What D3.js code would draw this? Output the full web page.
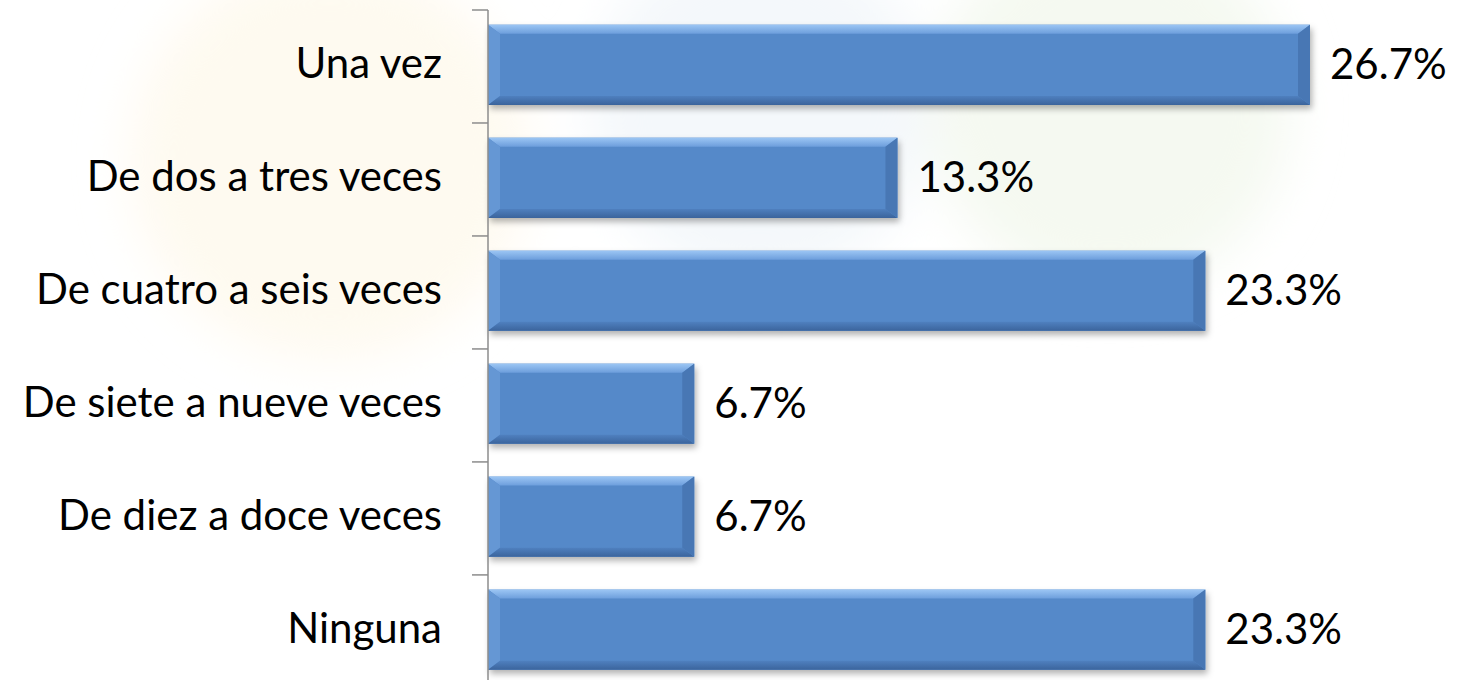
<!doctype html>
<html>
<head>
<style>
  body { margin: 0; background: #fff; }
  .cat { font-family: Lato, "Open Sans", sans-serif; font-size: 42px; fill: #000; }
  .val { font-family: Lato, "Open Sans", sans-serif; font-size: 42px; fill: #000; }
</style>
<script src="https://d3js.org/d3.v7.min.js"></script>
</head>
<body>
<svg width="1457" height="680"></svg>
<script>
var categories = ["Una vez", "De dos a tres veces", "De cuatro a seis veces", "De siete a nueve veces", "De diez a doce veces", "Ninguna"];
var values = [26.7, 13.3, 23.3, 6.7, 6.7, 23.3];
var valueLabels = ["26.7%", "13.3%", "23.3%", "6.7%", "6.7%", "23.3%"];

var svg = d3.select("svg");
var x0 = 488;

var x = d3.scaleLinear().domain([0, 26.7]).range([x0, 1310]);
var y = d3.scaleBand().domain(categories).range([10, 684.5]).paddingInner(0.29).paddingOuter(0.13);

var defs = svg.append("defs");
var blur = defs.append("filter").attr("id", "soft");
blur.append("feGaussianBlur").attr("stdDeviation", 25);

// faint watermark behind the chart
var wm = svg.append("g").attr("filter", "url(#soft)");
wm.append("circle").attr("cx", 330).attr("cy", 160).attr("r", 200).attr("fill", "#fefaf0");
wm.append("circle").attr("cx", 760).attr("cy", 110).attr("r", 170).attr("fill", "#f4f8fb");
wm.append("circle").attr("cx", 1110).attr("cy", 110).attr("r", 180).attr("fill", "#f5f9f1");

var sh = defs.append("filter").attr("id", "shadow").attr("x", "-5%").attr("y", "-20%").attr("width", "115%").attr("height", "150%");
sh.append("feDropShadow").attr("dx", 2).attr("dy", 4).attr("stdDeviation", 3).attr("flood-color", "#000").attr("flood-opacity", 0.3);

var gTop = defs.append("linearGradient").attr("id", "gTop").attr("x1", 0).attr("y1", 0).attr("x2", 0).attr("y2", 1);
gTop.append("stop").attr("offset", 0).attr("stop-color", "#9cc6f4");
gTop.append("stop").attr("offset", 1).attr("stop-color", "#6d9edc");
var gBot = defs.append("linearGradient").attr("id", "gBot").attr("x1", 0).attr("y1", 0).attr("x2", 0).attr("y2", 1);
gBot.append("stop").attr("offset", 0).attr("stop-color", "#4f80bf");
gBot.append("stop").attr("offset", 1).attr("stop-color", "#3b649c");

var g = svg.append("g");
var bevT = 9, bevL = 12;

var bars = g.selectAll(".bar").data(values).enter().append("g").attr("class", "bar")
  .attr("transform", function (d, i) { return "translate(" + x0 + "," + y(categories[i]) + ")"; });

bars.append("rect")
  .attr("width", function (d) { return x(d) - x0; })
  .attr("height", y.bandwidth())
  .attr("fill", "#5589c9")
  .attr("filter", "url(#shadow)");

// bevel faces
bars.append("path").attr("fill", "url(#gTop)").attr("d", function (d) {
  var w = x(d) - x0;
  return "M0,0L" + w + ",0L" + (w - bevL) + "," + bevT + "L" + bevL + "," + bevT + "Z";
});
bars.append("path").attr("fill", "#6597d4").attr("d", function (d) {
  var h = y.bandwidth();
  return "M0,0L" + bevL + "," + bevT + "L" + bevL + "," + (h - bevT) + "L0," + h + "Z";
});
bars.append("path").attr("fill", "url(#gBot)").attr("d", function (d) {
  var w = x(d) - x0, h = y.bandwidth();
  return "M0," + h + "L" + bevL + "," + (h - bevT) + "L" + (w - bevL) + "," + (h - bevT) + "L" + w + "," + h + "Z";
});
bars.append("path").attr("fill", "#4877b4").attr("d", function (d) {
  var w = x(d) - x0, h = y.bandwidth();
  return "M" + w + ",0L" + w + "," + h + "L" + (w - bevL) + "," + (h - bevT) + "L" + (w - bevL) + "," + bevT + "Z";
});

// value labels
g.selectAll(".val").data(values).enter().append("text")
  .attr("class", "val")
  .attr("x", function (d) { return x(d) + 20; })
  .attr("y", function (d, i) { return y(categories[i]) + y.bandwidth() / 2; })
  .attr("dy", "0.35em")
  .text(function (d, i) { return valueLabels[i]; });

// y axis
var axis = g.append("g").attr("transform", "translate(" + x0 + ",0)")
  .call(d3.axisLeft(y).tickSize(0).tickPadding(46));
axis.select(".domain").remove();
axis.selectAll("text").attr("class", "cat").attr("font-family", null).attr("font-size", null);

g.append("line").attr("x1", x0).attr("x2", x0).attr("y1", 10).attr("y2", 680)
  .attr("stroke", "#8c8c8c").attr("stroke-width", 1.5);

var step = y.step();
var bounds = d3.range(categories.length).map(function (i) { return 10 + i * step; });
g.selectAll(".tk").data(bounds).enter().append("line")
  .attr("x1", x0 - 16).attr("x2", x0)
  .attr("y1", function (d) { return d; }).attr("y2", function (d) { return d; })
  .attr("stroke", "#8c8c8c").attr("stroke-width", 1.5);
</script>
</body>
</html>
